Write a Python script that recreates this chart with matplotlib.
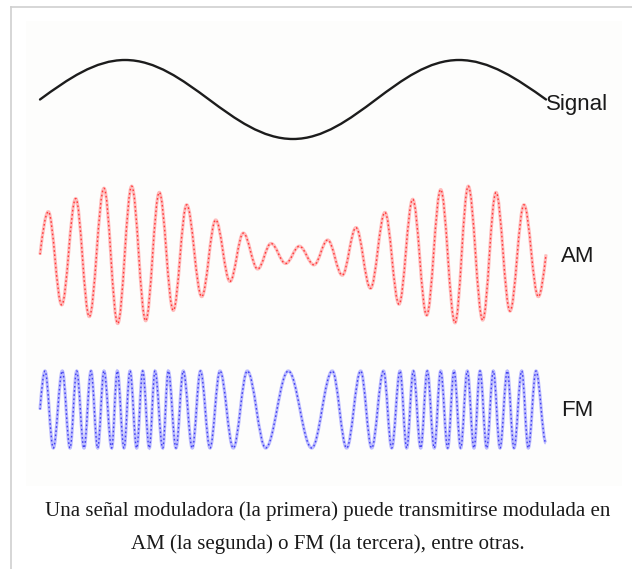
import matplotlib.pyplot as plt
from matplotlib.path import Path
from matplotlib.patches import PathPatch, Rectangle

W, H, DPI = 632, 569, 100

# Extrema.
# time: % of the trace width, amplitude: -1..1 (peak of each trace)
signal_t = [0.0, 16.8, 50.0, 82.8, 100.0]
signal_v = [0.0, 1.0, -1.0, 1.0, 0.0]

am_t = [0.0, 1.64, 4.29, 7.06, 9.74, 12.65, 15.36, 18.12, 20.89, 23.58,
        26.34, 28.99, 31.96, 34.72, 37.55, 40.18, 43.02, 45.65, 48.56,
        51.25, 54.15, 56.86, 59.74, 62.45, 65.32, 68.18, 70.95, 73.66,
        76.42, 79.19, 82.02, 84.64, 87.49, 90.12, 92.89, 95.65, 98.48, 100.0]
am_v = [0.0, 0.62, -0.73, 0.81, -0.90, 0.96, -1.00, 0.99, -0.96, 0.90,
        -0.81, 0.72, -0.61, 0.50, -0.39, 0.31, -0.21, 0.16, -0.13,
        0.12, -0.15, 0.21, -0.30, 0.39, -0.49, 0.61, -0.72, 0.80,
        -0.88, 0.94, -0.99, 0.99, -0.95, 0.90, -0.82, 0.72, -0.61, 0.0]

fm_t = [0.0, 0.99, 2.63, 4.41, 5.93, 7.25, 8.70, 10.08, 11.40, 12.65,
        14.17, 15.28, 16.60, 17.79, 19.11, 20.30, 21.60, 22.73, 24.25,
        25.36, 26.88, 28.32, 30.10, 31.72, 33.60, 35.57, 38.20, 40.97,
        44.60, 49.07, 53.70, 57.77, 60.61, 63.38, 65.55, 67.89, 69.51,
        71.15, 72.47, 73.78, 75.24, 76.54, 77.92, 79.19, 80.57, 81.82,
        83.14, 84.45, 85.77, 86.96, 88.28, 89.59, 90.91, 92.35, 93.68,
        95.20, 96.50, 98.02, 100.0]
fm_v = [0.0, 1, -1, 1, -1, 1, -1, 1, -1, 1,
        -1, 1, -1, 1, -1, 1, -1, 1, -1,
        1, -1, 1, -1, 1, -1, 1, -1, 1,
        -1, 1, -1, 1, -1, 1, -1, 1, -1,
        1, -1, 1, -1, 1, -1, 1, -1, 1,
        -1, 1, -1, 1, -1, 1, -1, 1, -1,
        1, -1, 1, -0.87]

labels = ["Signal", "AM", "FM"]
caption = ["Una señal moduladora (la primera) puede transmitirse modulada en",
           "AM (la segunda) o FM (la tercera), entre otras."]

K_HALF = 0.3634  # cubic handle for half a cosine between two extrema


def wave_path(t, v):
    """Smooth sine-like path through the extrema, as cubic Bezier pieces."""
    verts = [(t[0], v[0])]
    codes = [Path.MOVETO]
    n = len(t)
    for i in range(n - 1):
        t0, v0, t1, v1 = t[i], v[i], t[i + 1], v[i + 1]
        dt, dv = t1 - t0, v1 - v0
        if i == 0 and v0 == 0:
            # leaving a zero crossing: quarter wave
            c1 = (t0 + 0.3343 * dt, v0 + 0.5251 * dv)
            c2 = (t0 + 0.6519 * dt, v1)
        elif i == n - 2 and v1 == 0:
            c1 = (t0 + 0.3481 * dt, v0)
            c2 = (t1 - 0.3343 * dt, v1 - 0.5251 * dv)
        else:
            c1 = (t0 + K_HALF * dt, v0)
            c2 = (t1 - K_HALF * dt, v1)
        verts += [c1, c2, (t1, v1)]
        codes += [Path.CURVE4] * 3
    return Path(verts, codes)


fig = plt.figure(figsize=(W / DPI, H / DPI), dpi=DPI)
fig.patch.set_facecolor("white")

# pixel-space backdrop: frame, pale image area, labels
base = fig.add_axes([0, 0, 1, 1])
base.set_xlim(0, W)
base.set_ylim(H, 0)
base.axis("off")
base.add_patch(Rectangle((26, 21), 596, 465, facecolor="#fdfdfc", edgecolor="none"))
base.plot([10.5, 10.5], [7, H], color="#cfcfcf", lw=1.2)
base.plot([10.5, W], [7, 7], color="#cfcfcf", lw=1.2)


def trace_axes(x0, x1, ytop, ybot):
    ax = fig.add_axes([x0 / W, 1 - ybot / H, (x1 - x0) / W, (ybot - ytop) / H])
    ax.set_xlim(0, 100)
    ax.set_ylim(-1, 1)
    ax.axis("off")
    return ax


ax_sig = trace_axes(40, 546, 60, 139)
ax_am = trace_axes(40, 546, 185.5, 323.5)
ax_fm = trace_axes(40, 546, 371, 448)

ax_sig.add_patch(PathPatch(wave_path(signal_t, signal_v), fill=False,
                           edgecolor="#1c1c1c", lw=1.7, clip_on=False, capstyle="round"))

for ax, t, v, halo, core in [(ax_am, am_t, am_v, "#ffbcbc", "#ff3a3a"),
                             (ax_fm, fm_t, fm_v, "#bcbcff", "#4040f0")]:
    p = wave_path(t, v)
    ax.add_patch(PathPatch(p, fill=False, edgecolor=halo, lw=2.3, clip_on=False))
    ax.add_patch(PathPatch(p, fill=False, edgecolor=core, lw=1.0, clip_on=False,
                           linestyle=(0, (1.2, 1.8))))

lab_font = dict(family="Liberation Sans", fontsize=16, color="#1a1a1a")
base.text(546, 104, labels[0], ha="left", va="center", **lab_font)
base.text(561, 256, labels[1], ha="left", va="center", **lab_font)
base.text(561, 410, labels[2], ha="left", va="center", **lab_font)

cap_font = dict(family="Liberation Serif", fontsize=15, color="#1a1a1a")
base.text(328, 511, caption[0], ha="center", va="center", **cap_font)
base.text(328, 544, caption[1], ha="center", va="center", **cap_font)

fig.savefig("out.png", dpi=DPI)
